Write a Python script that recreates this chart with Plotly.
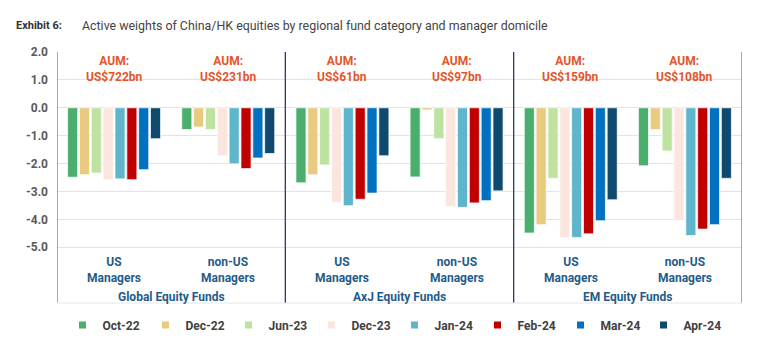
import plotly.graph_objects as go

groups = ["Global US", "Global non-US", "AxJ US", "AxJ non-US", "EM US", "EM non-US"]
group_labels = ["US<br>Managers", "non-US<br>Managers"] * 3
panel_labels = ["Global Equity Funds", "AxJ Equity Funds", "EM Equity Funds"]
aum_labels = ["AUM:<br>US$722bn", "AUM:<br>US$231bn", "AUM:<br>US$61bn",
              "AUM:<br>US$97bn", "AUM:<br>US$159bn", "AUM:<br>US$108bn"]

series_names = ["Oct-22", "Dec-22", "Jun-23", "Dec-23", "Jan-24", "Feb-24", "Mar-24", "Apr-24"]
oct22 = [-2.49, -0.78, -2.69, -2.48, -4.49, -2.08]
dec22 = [-2.40, -0.69, -2.40, -0.08, -4.19, -0.78]
jun23 = [-2.34, -0.78, -2.05, -1.11, -2.53, -1.55]
dec23 = [-2.58, -1.72, -3.39, -3.54, -4.66, -4.04]
jan24 = [-2.55, -2.01, -3.51, -3.57, -4.65, -4.58]
feb24 = [-2.58, -2.18, -3.28, -3.41, -4.52, -4.35]
mar24 = [-2.22, -1.80, -3.06, -3.33, -4.05, -4.19]
apr24 = [-1.11, -1.64, -1.72, -2.98, -3.30, -2.53]
series_values = [oct22, dec22, jun23, dec23, jan24, feb24, mar24, apr24]
colors = ["#4AAE6C", "#E8CB80", "#BEE3A0", "#FAE5DF", "#5FB5CB", "#C00000", "#0070C0", "#0E4A6E"]

y_ticks = [2, 1, 0, -1, -2, -3, -4, -5]

FONT = "Roboto, Arial, sans-serif"
x = list(range(len(groups)))
PW, PH = 685, 251

fig = go.Figure()
for name, vals, col in zip(series_names, series_values, colors):
    fig.add_trace(go.Bar(x=x, y=vals, name=name,
                         marker=dict(color=col, line=dict(color="rgba(255,255,255,0.9)", width=0.8)),
                         showlegend=False))
for name, col in zip(series_names, colors):
    fig.add_trace(go.Scatter(x=[None], y=[None], mode="markers", name=name,
                             marker=dict(symbol="square", size=7, color=col)))

annotations = []
for i, t in enumerate(aum_labels):
    annotations.append(dict(x=i, y=1.0, xref="x", yref="paper", text=t, showarrow=False,
                            yanchor="top", yshift=0,
                            font=dict(family=FONT, size=12, color="#E2562B", weight="bold")))
for i, t in enumerate(group_labels):
    annotations.append(dict(x=i, y=(303 - 253) / PH, xref="x", yref="paper", text=t,
                            showarrow=False, yanchor="top",
                            font=dict(family=FONT, size=12, color="#1F5C87", weight="bold")))
for i, t in enumerate(panel_labels):
    annotations.append(dict(x=2 * i + 0.5, y=(303 - 297) / PH, xref="x", yref="paper", text=t,
                            showarrow=False, yanchor="middle",
                            font=dict(family=FONT, size=12, color="#1F5C87", weight="bold")))
annotations.append(dict(xref="paper", yref="paper", x=(14 - 57) / PW, y=1 + (52 - 25) / PH,
                        xanchor="left", yanchor="middle", showarrow=False,
                        text="<b>Exhibit 6:</b>",
                        font=dict(family=FONT, size=11, color="#333333")))
annotations.append(dict(xref="paper", yref="paper", x=(80 - 57) / PW, y=1 + (52 - 25) / PH,
                        xanchor="left", yanchor="middle", showarrow=False,
                        text="Active weights of China/HK equities by regional fund category and manager domicile",
                        font=dict(family=FONT, size=12.4, color="#444444")))

shapes = []
for xv, col in [(-0.5, "#6A7BA8"), (1.5, "#2B3A6B"), (3.5, "#2B3A6B"), (5.5, "#6A7BA8")]:
    shapes.append(dict(type="line", xref="x", yref="paper", x0=xv, x1=xv, y0=0, y1=1,
                       line=dict(color=col, width=1.3)))
shapes.append(dict(type="line", xref="paper", yref="paper", x0=0, x1=1, y0=0, y1=0,
                   line=dict(color="#E6E6E6", width=1)))

fig.update_layout(
    width=761, height=337,
    margin=dict(l=57, r=19, t=52, b=34, autoexpand=False),
    paper_bgcolor="white", plot_bgcolor="white",
    barmode="group", bargap=0.17, bargroupgap=0.15,
    font=dict(family=FONT),
    xaxis=dict(range=[-0.5, 5.5], showticklabels=False, showgrid=False, zeroline=False,
               tickvals=x, ticktext=groups),
    yaxis=dict(range=[-7, 2], tickvals=y_ticks, ticktext=[f"{v:.1f}" for v in y_ticks],
               showgrid=True, gridcolor="#E3E3E3", gridwidth=1.2, zeroline=False,
               tickfont=dict(family=FONT, size=12, color="#595959", weight="bold"),
               ticks="", ticklabelstandoff=8),
    legend=dict(orientation="h", x=0.5 - 5 / PW, xanchor="center", y=-(325 - 303) / PH,
                yanchor="middle",
                font=dict(family=FONT, size=12, color="#404040", weight="bold"),
                itemwidth=30, tracegroupgap=0, entrywidth=38),
    annotations=annotations, shapes=shapes,
)

fig.write_html("out.html")
